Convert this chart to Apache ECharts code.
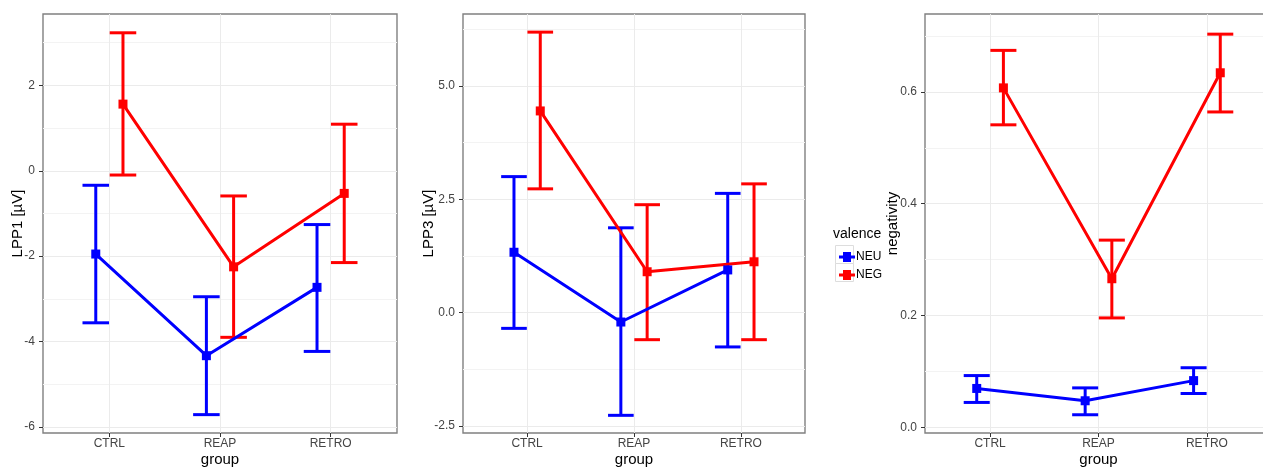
<!DOCTYPE html>
<html>
<head>
<meta charset="utf-8">
<script src="https://cdn.jsdelivr.net/npm/echarts@6/dist/echarts.min.js"></script>
<style>
  html, body { margin: 0; padding: 0; background: #fff; }
  #chart { width: 1263px; height: 468px; }
</style>
</head>
<body>
<div id="chart"></div>
<script>
// categories and values
const groups = ['CTRL', 'REAP', 'RETRO']
const valence = ['NEU', 'NEG']

const lpp1NeuMean = [-1.95, -4.33, -2.73]
const lpp1NeuLow = [-3.56, -5.71, -4.23]
const lpp1NeuHigh = [-0.34, -2.95, -1.26]
const lpp1NegMean = [1.56, -2.25, -0.53]
const lpp1NegLow = [-0.10, -3.90, -2.15]
const lpp1NegHigh = [3.23, -0.59, 1.09]

const lpp3NeuMean = [1.33, -0.21, 0.94]
const lpp3NeuLow = [-0.35, -2.27, -0.76]
const lpp3NeuHigh = [3.00, 1.87, 2.63]
const lpp3NegMean = [4.45, 0.90, 1.12]
const lpp3NegLow = [2.73, -0.60, -0.60]
const lpp3NegHigh = [6.19, 2.38, 2.84]

const negNeuMean = [0.070, 0.048, 0.084]
const negNeuLow = [0.045, 0.023, 0.061]
const negNeuHigh = [0.093, 0.071, 0.107]
const negNegMean = [0.607, 0.266, 0.634]
const negNegLow = [0.541, 0.196, 0.564]
const negNegHigh = [0.674, 0.335, 0.703]

const lpp1Ticks = [-6, -4, -2, 0, 2]
const lpp1Minor = [-5, -3, -1, 1, 3]
const lpp3Ticks = [-2.5, 0, 2.5, 5]
const lpp3Minor = [-1.25, 1.25, 3.75, 6.25]
const negTicks = [0, 0.2, 0.4, 0.6]
const negMinor = [0.1, 0.3, 0.5, 0.7]

const DODGE = 0.123
const CAP = 0.12
const colors = { NEU: '#0000ff', NEG: '#ff0000' }
const font = 'Liberation Sans, Arial, sans-serif'

const panels = [
  { name: 'LPP1 [µV]', gap: 18, min: -6.14, max: 3.67, ticks: lpp1Ticks, minor: lpp1Minor,
    grid: { left: 43, top: 14, width: 354, height: 419 },
    NEU: [lpp1NeuMean, lpp1NeuLow, lpp1NeuHigh], NEG: [lpp1NegMean, lpp1NegLow, lpp1NegHigh] },
  { name: 'LPP3 [µV]', gap: 27, min: -2.66, max: 6.59, ticks: lpp3Ticks, minor: lpp3Minor, fmt: 1,
    grid: { left: 463, top: 14, width: 342, height: 419 },
    NEU: [lpp3NeuMean, lpp3NeuLow, lpp3NeuHigh], NEG: [lpp3NegMean, lpp3NegLow, lpp3NegHigh] },
  { name: 'negativity', gap: 25, min: -0.0096, max: 0.739, ticks: negTicks, minor: negMinor, fmt: 1,
    grid: { left: 925, top: 14, width: 347, height: 419 },
    NEU: [negNeuMean, negNeuLow, negNeuHigh], NEG: [negNegMean, negNegLow, negNegHigh] }
]

function renderBar (params, api) {
  const x = api.value(0)
  const lo = api.value(1)
  const hi = api.value(2)
  const top = api.coord([x, hi])
  const bot = api.coord([x, lo])
  const l = api.coord([x - CAP, hi])[0]
  const r = api.coord([x + CAP, hi])[0]
  const style = { stroke: api.visual('color'), lineWidth: 3 }
  return {
    type: 'group',
    children: [
      { type: 'line', shape: { x1: top[0], y1: top[1], x2: bot[0], y2: bot[1] }, style: style },
      { type: 'line', shape: { x1: l, y1: top[1], x2: r, y2: top[1] }, style: style },
      { type: 'line', shape: { x1: l, y1: bot[1], x2: r, y2: bot[1] }, style: style }
    ]
  }
}

const grids = []
const xAxes = []
const yAxes = []
const bars = []
const lines = []

panels.forEach(function (p, i) {
  grids.push(Object.assign({
    show: true, borderColor: '#808080', borderWidth: 1.4, backgroundColor: '#fff',
    outerBoundsMode: 'none', containLabel: false
  }, p.grid))
  xAxes.push({
    type: 'value', gridIndex: i, min: 0.4, max: 3.6,
    name: 'group', nameLocation: 'middle', nameGap: 19, nameMoveOverlap: false,
    nameTextStyle: { fontFamily: font, fontSize: 15, color: '#000' },
    axisLine: { show: false, onZero: false },
    axisTick: { show: true, length: 4, customValues: [1, 2, 3], lineStyle: { color: '#333' } },
    axisLabel: { customValues: [1, 2, 3], margin: 5, fontFamily: font, fontSize: 12, color: '#444',
      formatter: function (v) { return groups[Math.round(v) - 1] } },
    splitLine: { show: true, lineStyle: { color: '#ebebeb', width: 1 } }
  })
  yAxes.push({
    type: 'value', gridIndex: i, min: p.min, max: p.max,
    name: p.name, nameLocation: 'middle', nameGap: p.gap, nameMoveOverlap: false,
    nameTextStyle: { fontFamily: font, fontSize: 15, color: '#000' },
    axisLine: { show: false, onZero: false },
    axisTick: { show: true, length: 4, customValues: p.ticks, lineStyle: { color: '#333' } },
    axisLabel: { customValues: p.ticks, margin: 8, fontFamily: font, fontSize: 12, color: '#444',
      formatter: function (v) { return p.fmt ? v.toFixed(1) : String(v) } },
    splitLine: { show: true, lineStyle: { color: '#ebebeb', width: 1 } }
  })
  // minor grid lines
  yAxes.push({
    type: 'value', gridIndex: i, min: p.min, max: p.max, position: 'left',
    axisLine: { show: false, onZero: false }, axisLabel: { show: false },
    axisTick: { show: false, customValues: p.minor },
    splitLine: { show: true, lineStyle: { color: '#f3f3f3', width: 1 } }
  })
  valence.forEach(function (v, k) {
    const off = k === 0 ? -DODGE : DODGE
    const vals = p[v]
    bars.push({
      type: 'custom', name: v, xAxisIndex: i, yAxisIndex: i * 2, z: 2,
      itemStyle: { color: colors[v] },
      renderItem: renderBar,
      data: groups.map(function (g, j) { return [j + 1 + off, vals[1][j], vals[2][j]] })
    })
    lines.push({
      type: 'line', name: v, xAxisIndex: i, yAxisIndex: i * 2, z: 3,
      symbol: 'rect', symbolSize: 9,
      itemStyle: { color: colors[v] },
      lineStyle: { color: colors[v], width: 3 },
      data: groups.map(function (g, j) { return [j + 1 + off, vals[0][j]] })
    })
  })
})

const myChart = echarts.init(document.getElementById('chart'))
myChart.setOption({
  animation: false,
  grid: grids,
  xAxis: xAxes,
  yAxis: yAxes,
  legend: {
    data: valence, orient: 'vertical', left: 834, top: 246,
    itemWidth: 16, itemHeight: 10, itemGap: 6,
    icon: 'path://M0,3.5h4v-3.5h8v3.5h4v3h-4v3.5h-8v-3.5h-4z',
    textStyle: { fontFamily: font, fontSize: 12, color: '#000', padding: [0, 0, 0, -4] },
    selectedMode: false
  },
  graphic: [
    { type: 'text', left: 833, top: 227, style: { text: 'valence', font: '14px ' + font, fill: '#000' } },
    { type: 'rect', left: 833, top: 243, shape: { width: 18, height: 18 }, style: { fill: 'none', stroke: '#dddddd', lineWidth: 1 } },
    { type: 'rect', left: 833, top: 261, shape: { width: 18, height: 18 }, style: { fill: 'none', stroke: '#dddddd', lineWidth: 1 } }
  ],
  series: bars.concat(lines)
})
window.addEventListener('resize', function () {
  myChart.resize()
})
</script>
</body>
</html>
